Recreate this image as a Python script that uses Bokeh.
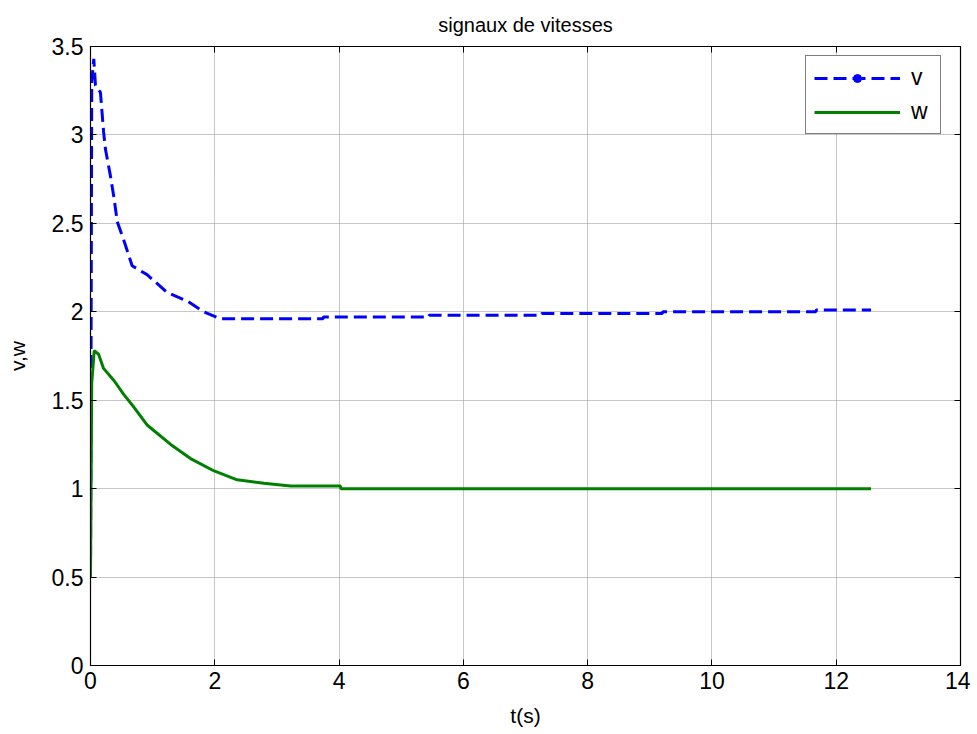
from bokeh.plotting import figure
from bokeh.models import LinearAxis, Legend, LegendItem, Range1d, FixedTicker
from bokeh.embed import file_html
from bokeh.resources import INLINE

# --- data ---
t_v = [0.0, 0.02, 0.053, 0.08, 0.16, 0.21, 0.24, 0.32, 0.38, 0.43, 0.54, 0.67,
       0.91, 1.23, 1.56, 1.82, 2.09, 3.74, 3.75, 5.44, 5.45, 7.25, 7.26, 9.2,
       9.21, 11.67, 11.68, 12.56]
v = [0.5, 3.3, 3.43, 3.28, 3.24, 3.02, 2.92, 2.77, 2.64, 2.51, 2.40, 2.26,
     2.21, 2.11, 2.06, 2.00, 1.96, 1.96, 1.97, 1.97, 1.98, 1.98, 1.99, 1.99,
     2.00, 2.00, 2.01, 2.01]

t_w = [0.0, 0.02, 0.06, 0.13, 0.21, 0.38, 0.54, 0.70, 0.91, 1.29, 1.61, 1.99,
       2.36, 2.79, 3.22, 4.02, 4.03, 12.56]
w = [0.5, 1.6, 1.78, 1.76, 1.68, 1.61, 1.53, 1.46, 1.36, 1.25, 1.17, 1.10,
     1.05, 1.03, 1.015, 1.015, 1.0, 1.0]

x_ticks = [0, 2, 4, 6, 8, 10, 12, 14]
y_ticks = [0, 0.5, 1, 1.5, 2, 2.5, 3, 3.5]
y_tick_labels = {0: "0", 0.5: "0.5", 1: "1", 1.5: "1.5", 2: "2", 2.5: "2.5", 3: "3", 3.5: "3.5"}

title_text = "signaux de vitesses"
x_label = "t(s)"
y_label = "v,w"

FONT = "Liberation Sans"

p = figure(width=970, height=730, output_backend="svg", toolbar_location=None,
           x_range=Range1d(0, 14), y_range=Range1d(0, 3.5),
           min_border_left=90, min_border_right=10, min_border_top=44,
           min_border_bottom=65, title=title_text)

p.title.align = "center"
p.title.text_font = FONT
p.title.text_font_size = "20px"
p.title.text_font_style = "normal"
p.title.text_color = "black"
p.title.offset = 0
p.title.standoff = 22

p.outline_line_color = "black"
p.outline_line_width = 1.2
p.background_fill_color = "white"
p.border_fill_color = "white"

for ax in (p.xaxis[0], p.yaxis[0]):
    ax.major_label_text_font = FONT
    ax.major_label_text_font_size = "23px"
    ax.major_label_text_color = "black"
    ax.axis_label_text_font = FONT
    ax.axis_label_text_font_size = "21px"
    ax.axis_label_text_font_style = "normal"
    ax.axis_label_text_color = "black"
    ax.major_tick_in = 6
    ax.major_tick_out = 0
    ax.minor_tick_in = 0
    ax.minor_tick_out = 0
    ax.axis_line_color = "black"
    ax.major_tick_line_color = "black"

p.xaxis[0].major_label_standoff = 6
p.yaxis[0].major_label_standoff = 7
p.xaxis[0].ticker = FixedTicker(ticks=x_ticks)
p.yaxis[0].ticker = FixedTicker(ticks=y_ticks)
p.yaxis[0].major_label_overrides = y_tick_labels
p.xaxis[0].axis_label = x_label
p.yaxis[0].axis_label = y_label
p.xaxis[0].axis_label_standoff = 12
p.yaxis[0].axis_label_standoff = 20

# right and top axes with ticks only (empty labels)
right = LinearAxis(ticker=FixedTicker(ticks=y_ticks),
                   major_label_overrides={t: "" for t in y_ticks},
                   major_label_text_font_size="1px",
                   major_tick_in=6, major_tick_out=0, minor_tick_in=0, minor_tick_out=0,
                   major_label_standoff=0, axis_line_color="black")
top = LinearAxis(ticker=FixedTicker(ticks=x_ticks),
                 major_label_overrides={t: "" for t in x_ticks},
                 major_label_text_font_size="1px",
                 major_tick_in=6, major_tick_out=0, minor_tick_in=0, minor_tick_out=0,
                 major_label_standoff=0, axis_line_color="black")
p.add_layout(right, "right")
p.add_layout(top, "above")

p.xgrid.ticker = FixedTicker(ticks=x_ticks)
p.ygrid.ticker = FixedTicker(ticks=y_ticks)
for g in (p.xgrid[0], p.ygrid[0]):
    g.grid_line_color = "#8f8f8f"
    g.grid_line_dash = "1 1"
    g.grid_line_width = 1

r_v = p.line(t_v, v, line_color="#0000ff", line_width=3, line_dash="13 6")
r_w = p.line(t_w, w, line_color="#008000", line_width=3)
# marker shown only in the legend (MATLAB '--.' style entry)
r_dot = p.scatter(t_v, v, size=10, marker="circle", fill_color="#0000ff",
                  line_color="#0000ff", visible=False)

legend = Legend(items=[LegendItem(label="v", renderers=[r_v, r_dot]),
                       LegendItem(label="w", renderers=[r_w])],
                location=(715, 531))
legend.label_text_font = FONT
legend.label_text_font_size = "23px"
legend.label_text_color = "black"
legend.glyph_width = 86
legend.glyph_height = 20
legend.label_height = 20
legend.spacing = 7
legend.padding = 8
legend.margin = 0
legend.label_standoff = 11
legend.label_width = 21
legend.border_line_color = "black"
legend.border_line_width = 1.2
legend.background_fill_alpha = 1.0
p.add_layout(legend)

open("out.html", "w").write(file_html(p, INLINE))
